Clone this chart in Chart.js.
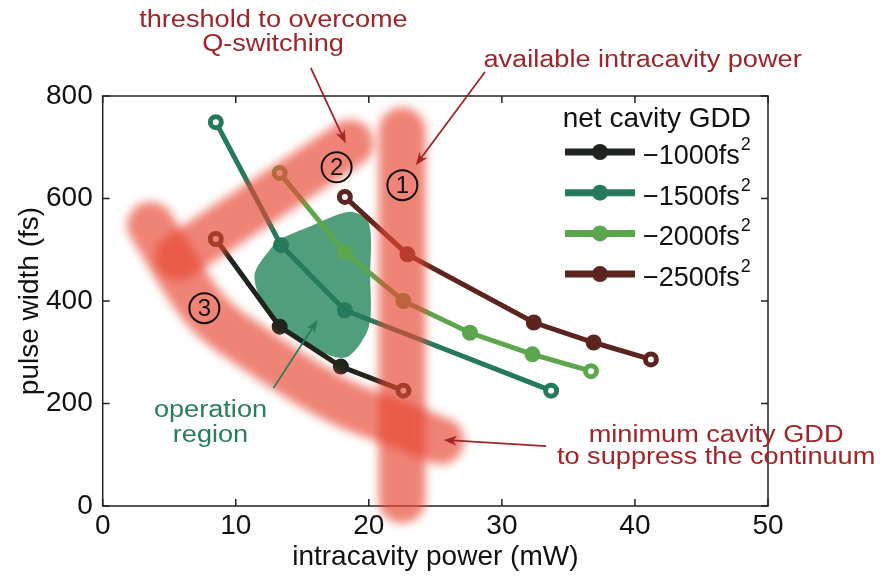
<!DOCTYPE html>
<html>
<head>
<meta charset="utf-8">
<script src="https://cdn.jsdelivr.net/npm/chart.js@4.4.1/dist/chart.umd.min.js"></script>
<style>
  html, body { margin: 0; padding: 0; background: #fff; }
  #chart { display: block; }
</style>
</head>
<body>
<canvas id="chart" width="880" height="579"></canvas>
<script>
// pulse width (fs) vs intracavity power (mW), one series per net cavity GDD
const gddLabels = ['−1000fs²', '−1500fs²', '−2000fs²', '−2500fs²'];
const power1000 = [8.5, 13.3, 17.9, 22.6];
const width1000 = [521, 350, 272, 225];
const power1500 = [8.5, 13.4, 18.2, 33.7];
const width1500 = [749, 509, 382, 225];
const power2000 = [13.3, 18.2, 22.6, 27.6, 32.3, 36.7];
const width2000 = [650, 495, 400, 338, 296, 263];
const power2500 = [18.2, 22.9, 32.4, 36.9, 41.2];
const width2500 = [603, 491, 358, 319, 286];

// shaded limit bands (1 = available power, 2 = Q-switching, 3 = continuum)
const band1X = [22.5, 22.5];
const band1Y = [732, 12];
const band2X = [5.7, 18.6];
const band2Y = [486, 708];
const band3X = [3.6, 7.6, 11.6, 17.9, 22.4, 25.4];
const band3Y = [548, 386, 304, 203, 158, 127];

// operation region outline
const regionX = [13.1, 15.8, 18.6, 20.0, 20.1, 20.0, 18.4, 16.6, 13.1, 11.4, 13.1];
const regionY = [519, 548, 574, 552, 450, 350, 291, 299, 356, 447, 519];

const xTicks = [0, 10, 20, 30, 40, 50];
const yTicks = [0, 200, 400, 600, 800];

const FONT = '"Liberation Sans", Arial, Helvetica, sans-serif';
const RED = 'rgb(160,36,40)';
const GREEN = 'rgb(40,125,90)';
const seriesColors = ['rgb(30,36,30)', 'rgb(38,122,92)', 'rgb(92,166,78)', 'rgb(92,36,30)'];

function pts(xs, ys) {
  return xs.map((x, i) => ({ x, y: ys[i] }));
}

function seriesSet(label, xs, ys, color) {
  const last = xs.length - 1;
  return {
    label,
    series: true,
    order: 1,
    showLine: true,
    data: pts(xs, ys),
    borderColor: color,
    borderWidth: 5,
    pointRadius: 5.5,
    pointHoverRadius: 5.5,
    pointBorderWidth: 5,
    pointBorderColor: color,
    pointBackgroundColor: c => (c.dataIndex === 0 || c.dataIndex === last) ? '#fff' : color
  };
}

function bandSet(xs, ys) {
  return {
    band: true,
    order: 0,
    showLine: true,
    clip: false,
    data: pts(xs, ys),
    borderColor: 'rgba(232,72,52,0.68)',
    borderWidth: 47,
    borderCapStyle: 'round',
    borderJoinStyle: 'round',
    cubicInterpolationMode: 'monotone',
    pointRadius: 0,
    pointHoverRadius: 0
  };
}

const datasets = [
  bandSet(band1X, band1Y),
  bandSet(band2X, band2Y),
  bandSet(band3X, band3Y),
  seriesSet(gddLabels[0], power1000, width1000, seriesColors[0]),
  seriesSet(gddLabels[1], power1500, width1500, seriesColors[1]),
  seriesSet(gddLabels[2], power2000, width2000, seriesColors[2]),
  seriesSet(gddLabels[3], power2500, width2500, seriesColors[3]),
  {
    order: 2,
    showLine: true,
    data: pts(regionX, regionY),
    fill: 'shape',
    backgroundColor: 'rgba(62,148,110,0.9)',
    borderColor: 'transparent',
    borderWidth: 1,
    tension: 0.3,
    pointRadius: 0,
    pointHoverRadius: 0
  }
];

// annotation texts and arrows, in data units
const notes = [
  { text: 'threshold to overcome', x: 12.83, y: 935, color: RED },
  { text: 'Q-switching', x: 12.8, y: 888, color: RED },
  { text: 'available intracavity power', x: 40.57, y: 857, color: RED },
  { text: 'minimum cavity GDD', x: 46.1, y: 125, color: RED },
  { text: 'to suppress the continuum', x: 46.1, y: 82, color: RED },
  { text: 'operation', x: 8.1, y: 174, color: GREEN },
  { text: 'region', x: 8.1, y: 125, color: GREEN }
];
const arrows = [
  { from: [15.64, 855], to: [18.26, 708], color: RED },
  { from: [28.73, 847], to: [23.53, 665], color: RED },
  { from: [33.33, 117], to: [25.64, 129], color: RED },
  { from: [12.83, 230], to: [16.15, 363], color: GREEN }
];
const markers = [
  { text: '1', x: 22.52, y: 626 },
  { text: '2', x: 17.58, y: 661 },
  { text: '3', x: 7.64, y: 386 }
];

// soften the hand-drawn bands
const blurBands = {
  id: 'blurBands',
  beforeDatasetDraw(chart, args) {
    if (!chart.data.datasets[args.index].band) return;
    chart.ctx.save();
    chart.ctx.filter = 'blur(5px)';
  },
  afterDatasetDraw(chart, args) {
    if (!chart.data.datasets[args.index].band) return;
    chart.ctx.restore();
  }
};

// matlab style box with inward ticks
const boxAxes = {
  id: 'boxAxes',
  beforeDatasetsDraw(chart) {
    const { ctx, chartArea: a, scales } = chart;
    ctx.save();
    ctx.strokeStyle = '#222';
    ctx.lineWidth = 1.5;
    ctx.strokeRect(a.left, a.top, a.right - a.left, a.bottom - a.top);
    ctx.beginPath();
    xTicks.forEach(v => {
      const px = scales.x.getPixelForValue(v);
      ctx.moveTo(px, a.bottom); ctx.lineTo(px, a.bottom - 7);
      ctx.moveTo(px, a.top); ctx.lineTo(px, a.top + 7);
    });
    yTicks.forEach(v => {
      const py = scales.y.getPixelForValue(v);
      ctx.moveTo(a.left, py); ctx.lineTo(a.left + 7, py);
      ctx.moveTo(a.right, py); ctx.lineTo(a.right - 7, py);
    });
    ctx.stroke();
    ctx.restore();
  }
};

function drawArrow(ctx, x1, y1, x2, y2, color) {
  const ang = Math.atan2(y2 - y1, x2 - x1);
  ctx.strokeStyle = color;
  ctx.fillStyle = color;
  ctx.lineWidth = 1.8;
  ctx.beginPath();
  ctx.moveTo(x1, y1);
  ctx.lineTo(x2 - 8 * Math.cos(ang), y2 - 8 * Math.sin(ang));
  ctx.stroke();
  ctx.beginPath();
  ctx.moveTo(x2, y2);
  ctx.lineTo(x2 - 13 * Math.cos(ang) + 5 * Math.sin(ang), y2 - 13 * Math.sin(ang) - 5 * Math.cos(ang));
  ctx.lineTo(x2 - 9 * Math.cos(ang), y2 - 9 * Math.sin(ang));
  ctx.lineTo(x2 - 13 * Math.cos(ang) - 5 * Math.sin(ang), y2 - 13 * Math.sin(ang) + 5 * Math.cos(ang));
  ctx.closePath();
  ctx.fill();
}

const annotations = {
  id: 'annotations',
  afterDatasetsDraw(chart) {
    const { ctx, scales: { x, y } } = chart;
    ctx.save();
    arrows.forEach(a => {
      drawArrow(ctx, x.getPixelForValue(a.from[0]), y.getPixelForValue(a.from[1]),
        x.getPixelForValue(a.to[0]), y.getPixelForValue(a.to[1]), a.color);
    });

    markers.forEach(m => {
      const px = x.getPixelForValue(m.x);
      const py = y.getPixelForValue(m.y);
      ctx.strokeStyle = '#111';
      ctx.lineWidth = 2;
      ctx.beginPath();
      ctx.arc(px, py, 15, 0, Math.PI * 2);
      ctx.stroke();
      ctx.fillStyle = '#111';
      ctx.font = '24px ' + FONT;
      ctx.textAlign = 'center';
      ctx.textBaseline = 'middle';
      ctx.fillText(m.text, px, py + 1);
    });

    // the source figure's labels are a bit wide, stretch them sideways
    ctx.font = '23px ' + FONT;
    ctx.textAlign = 'center';
    ctx.textBaseline = 'alphabetic';
    notes.forEach(n => {
      ctx.save();
      ctx.translate(x.getPixelForValue(n.x), y.getPixelForValue(n.y));
      ctx.scale(1.18, 1);
      ctx.fillStyle = n.color;
      ctx.fillText(n.text, 0, 0);
      ctx.restore();
    });
    ctx.restore();
  }
};

// legend inside the axes, with the GDD superscript
const gddLegend = {
  id: 'gddLegend',
  afterDraw(chart) {
    const ctx = chart.ctx;
    const items = chart.data.datasets.filter(d => d.series);
    ctx.save();
    ctx.fillStyle = '#111';
    ctx.font = '28px ' + FONT;
    ctx.textAlign = 'right';
    ctx.textBaseline = 'alphabetic';
    ctx.fillText('net cavity GDD', 751, 127);
    items.forEach((d, i) => {
      const cy = 152 + i * 40.7;
      ctx.strokeStyle = d.borderColor;
      ctx.lineWidth = 7;
      ctx.beginPath();
      ctx.moveTo(565, cy);
      ctx.lineTo(635, cy);
      ctx.stroke();
      ctx.fillStyle = d.borderColor;
      ctx.beginPath();
      ctx.arc(600, cy, 8, 0, Math.PI * 2);
      ctx.fill();

      const base = d.label.replace('²', '');
      ctx.fillStyle = '#111';
      ctx.textAlign = 'left';
      ctx.font = '27px ' + FONT;
      ctx.fillText(base, 643, cy + 12);
      const w = ctx.measureText(base).width;
      ctx.font = '18px ' + FONT;
      ctx.fillText('2', 643 + w + 1, cy - 2);
    });
    ctx.restore();
  }
};

new Chart(document.getElementById('chart'), {
  type: 'scatter',
  data: { datasets },
  options: {
    responsive: false,
    animation: false,
    layout: { padding: { top: 96, right: 112, left: 0, bottom: 0 } },
    plugins: {
      legend: { display: false },
      tooltip: { enabled: false }
    },
    scales: {
      x: {
        type: 'linear',
        min: 0,
        max: 50,
        afterBuildTicks: s => { s.ticks = xTicks.map(v => ({ value: v })); },
        afterFit: s => { s.height = 73; },
        grid: { display: false, drawTicks: false },
        border: { display: false },
        ticks: { color: '#111', font: { family: FONT, size: 28 }, padding: 3, maxRotation: 0 },
        title: {
          display: true,
          text: 'intracavity power (mW)',
          color: '#111',
          font: { family: FONT, size: 28 },
          padding: { top: 0, bottom: 5 }
        }
      },
      y: {
        type: 'linear',
        min: 0,
        max: 800,
        afterBuildTicks: s => { s.ticks = yTicks.map(v => ({ value: v })); },
        afterFit: s => { s.width = 102.7; },
        grid: { display: false, drawTicks: false },
        border: { display: false },
        ticks: { color: '#111', font: { family: FONT, size: 28 }, padding: 10 },
        title: {
          display: true,
          text: 'pulse width (fs)',
          color: '#111',
          font: { family: FONT, size: 28 },
          padding: { top: 13, bottom: 0 }
        }
      }
    }
  },
  plugins: [blurBands, boxAxes, annotations, gddLegend]
});
</script>
</body>
</html>
